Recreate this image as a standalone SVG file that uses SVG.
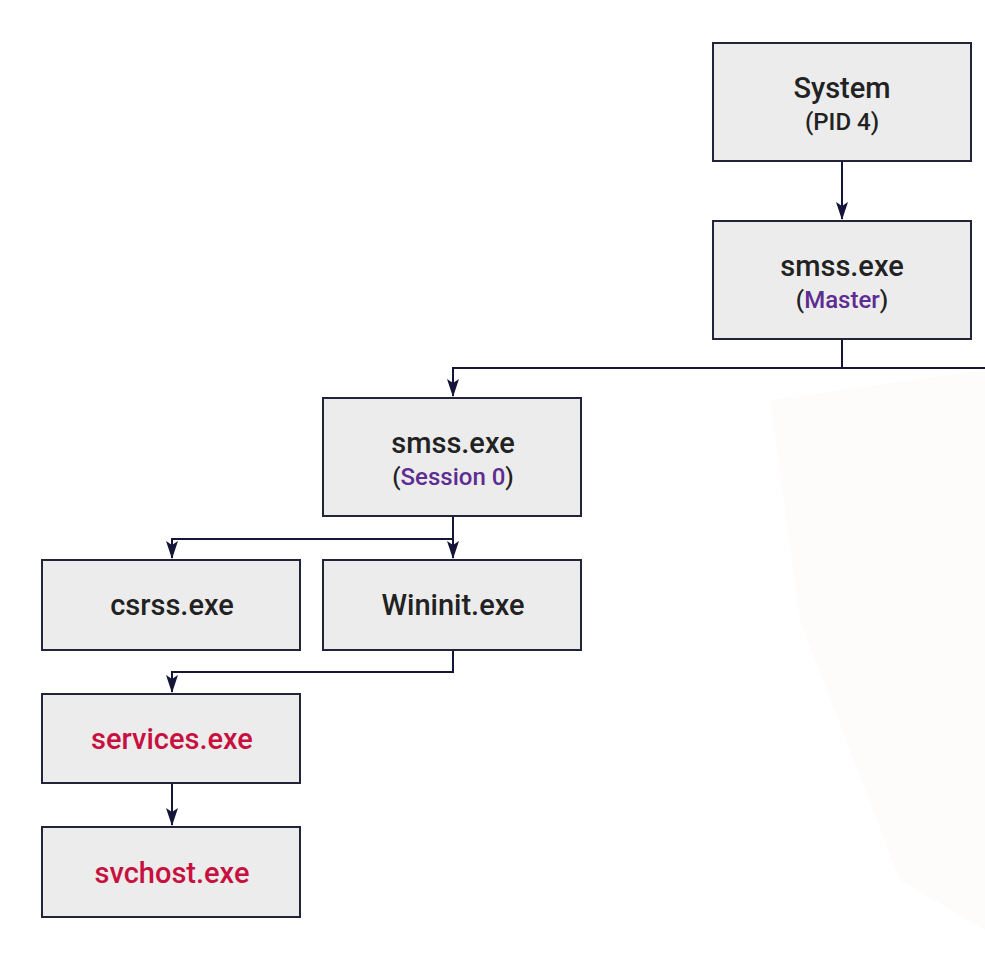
<svg xmlns="http://www.w3.org/2000/svg" width="985" height="961" viewBox="0 0 985 961">
<style>
.box{fill:#ececec;stroke:#23233a;stroke-width:2}
.t{font-family:Roboto,"Liberation Sans",sans-serif;font-weight:500;fill:#222;text-anchor:middle}
.main{font-size:29px}
.sub{font-size:24px}
.pur{fill:#5e2d91}
.red{fill:#c8103f}
.con{fill:none;stroke:#15153a;stroke-width:2}
</style>
<defs>
<marker id="arr" markerWidth="12" markerHeight="18" refX="6" refY="17" orient="0" markerUnits="userSpaceOnUse" viewBox="0 0 12 18">
<path d="M0,0 L6,4 L12,0 L6,18 Z" fill="#15153a"/>
</marker>
</defs>
<rect width="985" height="961" fill="#fff"/>
<g id="watermark">
<polygon points="770,400 985,370 985,930 900,880 800,620" fill="#fefbfb"/>
</g>
<g id="connectors">
<path class="con" d="M842,161 V219" marker-end="url(#arr)"/>
<path class="con" d="M842,339 V368"/>
<path class="con" d="M985,368 H453 V396" marker-end="url(#arr)"/>
<path class="con" d="M453,516 V558" marker-end="url(#arr)"/>
<path class="con" d="M453,539 H172 V558" marker-end="url(#arr)"/>
<path class="con" d="M453,650 V672 H172 V692" marker-end="url(#arr)"/>
<path class="con" d="M172,783 V825" marker-end="url(#arr)"/>
</g>
<g id="system">
<rect class="box" x="713" y="43" width="258" height="118"/>
<text class="t main" x="842" y="98">System</text>
<text class="t sub" x="842" y="130">(PID 4)</text>
</g>
<g id="smss-master">
<rect class="box" x="713" y="221" width="258" height="118"/>
<text class="t main" x="842" y="276">smss.exe</text>
<text class="t sub" x="842" y="308">(<tspan class="pur">Master</tspan>)</text>
</g>
<g id="smss-session0">
<rect class="box" x="323" y="398" width="258" height="118"/>
<text class="t main" x="453" y="453">smss.exe</text>
<text class="t sub" x="453" y="485">(<tspan class="pur">Session 0</tspan>)</text>
</g>
<g id="csrss">
<rect class="box" x="42" y="560" width="258" height="90"/>
<text class="t main" x="172" y="615">csrss.exe</text>
</g>
<g id="wininit">
<rect class="box" x="323" y="560" width="258" height="90"/>
<text class="t main" x="453" y="615">Wininit.exe</text>
</g>
<g id="services">
<rect class="box" x="42" y="694" width="258" height="89"/>
<text class="t main red" x="172" y="749">services.exe</text>
</g>
<g id="svchost">
<rect class="box" x="42" y="827" width="258" height="90"/>
<text class="t main red" x="172" y="883">svchost.exe</text>
</g>
</svg>
